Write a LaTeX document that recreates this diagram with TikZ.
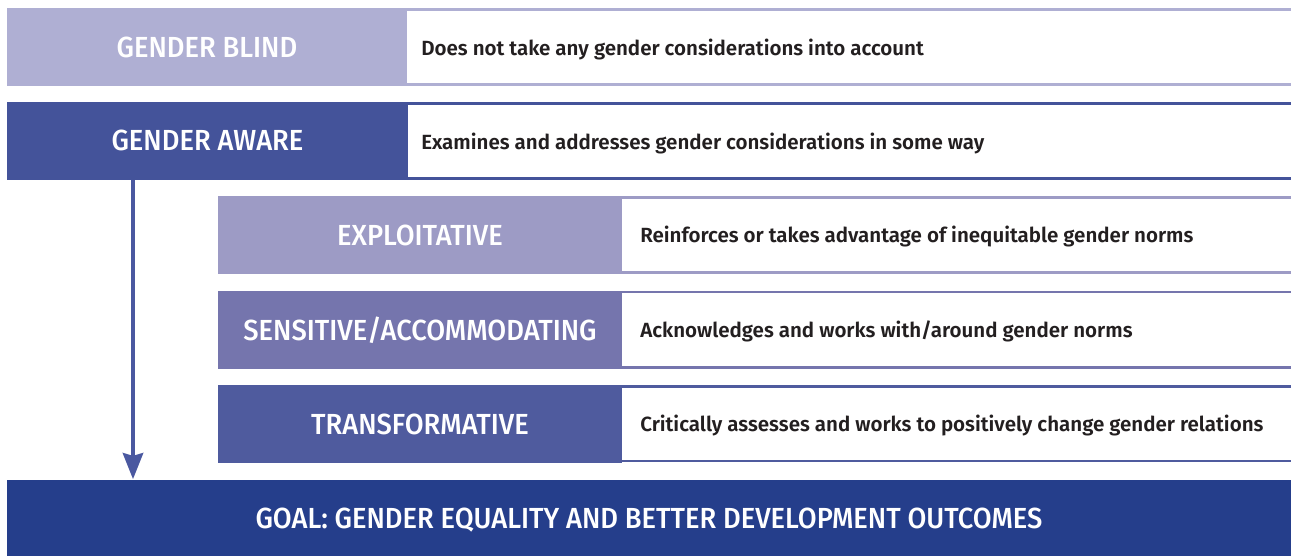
\documentclass[tikz,border=0pt]{standalone}
\usepackage{fontspec}
\setmainfont{Fira Sans}[BoldFont={Fira Sans SemiBold}]
\newfontfamily\lblfont{Fira Sans Medium}[FakeStretch=0.94]
\usetikzlibrary{arrows.meta}
\definecolor{blindc}{HTML}{AFAFD3}
\definecolor{awarec}{HTML}{44539A}
\definecolor{exploitc}{HTML}{9D9BC5}
\definecolor{sensc}{HTML}{7575AD}
\definecolor{transc}{HTML}{4F5B9E}
\definecolor{goalc}{HTML}{253E8B}
\definecolor{arrowc}{HTML}{4A58A0}
\definecolor{textc}{HTML}{231F20}
\tikzset{
  lbl/.style={rectangle, inner sep=0pt, text=white, text height=15pt, text depth=0pt, font=\lblfont\fontsize{21.8pt}{24pt}\selectfont},
  bigbox/.style={lbl, minimum width=300pt, minimum height=58.5pt},
  subbox/.style={lbl, minimum width=303pt, minimum height=58.5pt},
  desc/.style={anchor=west, inner sep=0pt, text height=10.7pt, text depth=0pt, text=textc, font=\fontsize{15.4pt}{18pt}\selectfont\bfseries},
  rule/.style={line width=1.9pt},
  flow/.style={draw=arrowc, line width=3.6pt, -{Stealth[width=15pt,length=19.5pt,inset=2pt]}}
}
\begin{document}
\begin{tikzpicture}[x=0.75pt, y=-0.75pt]
\useasboundingbox (0,0) rectangle (1291,556);
% rows
\node[bigbox, fill=blindc] (blind) at (207,47.5) {GENDER BLIND};
\draw[rule, blindc] (blind.east |- 0,9.5) -- (1291,9.5);
\draw[rule, blindc] (blind.east |- 0,84.5) -- (1291,84.5);
\node[desc] (blinddesc) at (421,48) {Does not take any gender considerations into account};

\node[bigbox, fill=awarec, minimum width=300.75pt] (aware) at (207.5,141) {GENDER AWARE};
\draw[rule, awarec] (aware.east |- 0,103.3) -- (1291,103.3);
\draw[rule, awarec] (aware.east |- 0,178.3) -- (1291,178.3);
\node[desc] (awaredesc) at (421,142) {Examines and addresses gender considerations in some way};

\node[subbox, fill=exploitc] (exploit) at (420,235) {EXPLOITATIVE};
\draw[rule, exploitc] (exploit.east |- 0,197.3) -- (1291,197.3);
\draw[rule, exploitc] (exploit.east |- 0,272.7) -- (1291,272.7);
\node[desc] (exploitdesc) at (640,235.5) {Reinforces or takes advantage of inequitable gender norms};

\node[subbox, fill=sensc] (sens) at (420,330) {SENSITIVE/ACCOMMODATING};
\draw[rule, sensc] (sens.east |- 0,292) -- (1291,292);
\draw[rule, sensc] (sens.east |- 0,367.3) -- (1291,367.3);
\node[desc] (sensdesc) at (640,330.5) {Acknowledges and works with/around gender norms};

\node[subbox, fill=transc] (trans) at (420,424) {TRANSFORMATIVE};
\draw[rule, transc] (trans.east |- 0,386.3) -- (1291,386.3);
\draw[rule, transc] (trans.east |- 0,461) -- (1291,461);
\node[desc] (transdesc) at (640,424.5) {Critically assesses and works to positively change gender relations};

\node[lbl, fill=goalc, minimum width=963pt, minimum height=57.75pt] (goal) at (649,518) {GOAL: GENDER EQUALITY AND BETTER DEVELOPMENT OUTCOMES};

\coordinate (arrx) at (133,0);
\draw[flow] (aware.south -| arrx) -- (goal.north -| arrx);
\end{tikzpicture}
\end{document}
